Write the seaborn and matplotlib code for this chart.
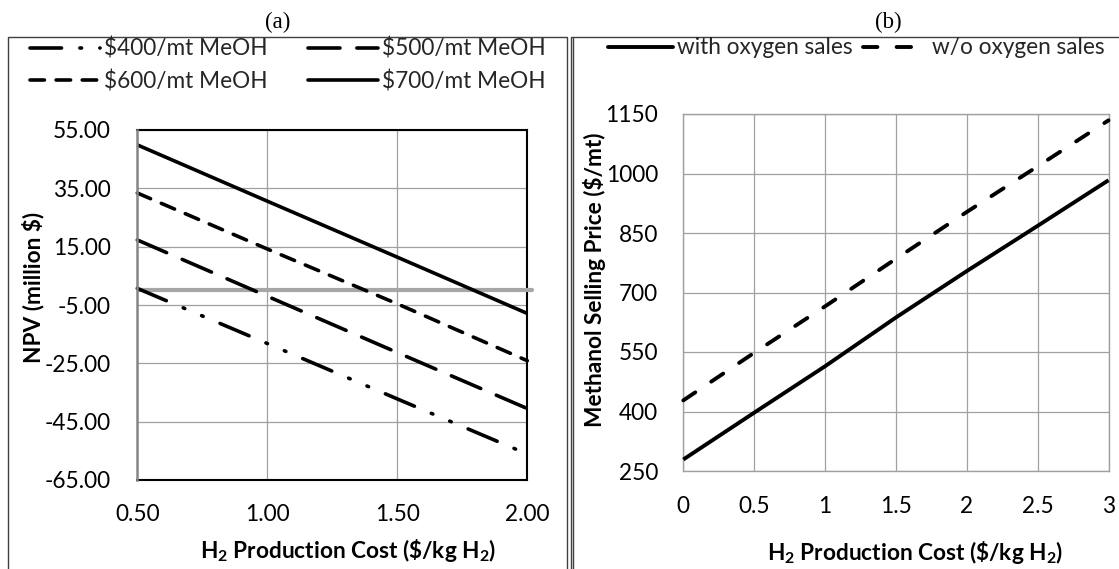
import matplotlib
matplotlib.use("Agg")
import matplotlib.pyplot as plt
from matplotlib.lines import Line2D
import numpy as np
import pandas as pd
import seaborn as sns

# ---- data -------------------------------------------------------------
h2_cost_a = [0.5, 1.0, 1.5, 2.0]
npv_400 = [0.7, -18.2, -37.2, -56.1]
npv_500 = [17.3, -2.0, -21.3, -40.5]
npv_600 = [33.4, 14.2, -4.6, -24.1]
npv_700 = [49.9, 30.6, 11.4, -7.9]
npv_labels = ["$400/mt MeOH", "$500/mt MeOH", "$600/mt MeOH", "$700/mt MeOH"]
npv_ticks = [-65, -45, -25, -5, 15, 35, 55]

h2_cost_b = [0, 0.5, 1, 1.5, 2, 2.5, 3]
price_with_o2 = [279, 397, 514, 637, 754, 868, 983]
price_without_o2 = [428, 548, 665, 785, 903, 1018, 1134]
price_labels = ["with oxygen sales", "w/o oxygen sales"]
price_ticks = [250, 400, 550, 700, 850, 1000, 1150]
cost_ticks_b = [0, 0.5, 1, 1.5, 2, 2.5, 3]

# ---- style ------------------------------------------------------------
sns.set_theme(style="white")
plt.rcParams["font.family"] = ["Lato", "DejaVu Sans"]
plt.rcParams["mathtext.fontset"] = "custom"
plt.rcParams["mathtext.rm"] = "Lato"
plt.rcParams["mathtext.bf"] = "Lato:bold"
plt.rcParams["lines.scale_dashes"] = False
FS = 16.3
FS_PX = FS * 100 / 72
GRID = "#a0a0a0"

W, H = 1119, 569
fig = plt.figure(figsize=(W / 100, H / 100), dpi=100)


def px_rect(x0, y0, x1, y1):
    return [x0 / W, 1 - y1 / H, (x1 - x0) / W, (y1 - y0) / H]


ax_a = fig.add_axes(px_rect(137.3, 130, 527.3, 480))
ax_b = fig.add_axes(px_rect(683.3, 114, 1108.5, 471))

# ---- panel (a): NPV ----------------------------------------------------
styles_a = [
    (0, (22.7, 13.2, 1.2, 13.2, 1.2, 13.2)),   # long dash dot dot
    (0, (23, 12.2)),                           # long dash
    (0, (10.4, 8.4)),                          # short dash
    "-",                                       # solid
]
df_a = pd.DataFrame({"cost": h2_cost_a, "v400": npv_400, "v500": npv_500,
                     "v600": npv_600, "v700": npv_700})
handles_a = []
for col, ls in zip(["v400", "v500", "v600", "v700"], styles_a):
    sns.lineplot(data=df_a, x="cost", y=col, ax=ax_a, color="black",
                 linewidth=2.6, linestyle=ls, dash_capstyle="round",
                 solid_capstyle="butt", clip_on=False, zorder=4)
    handles_a.append(Line2D([], [], color="black", linewidth=2.6, linestyle=ls,
                            dash_capstyle="round"))

# break-even reference line
ax_a.axhline(0, xmin=0.005, xmax=1.012, color="#a6a6a6", linewidth=3.0,
             clip_on=False, zorder=3)

ax_a.set_xlim(0.5, 2.0)
ax_a.set_ylim(-65, 55)
ax_a.set_xticks(h2_cost_a)
ax_a.set_xticklabels([f"{v:.2f}" for v in h2_cost_a])
ax_a.set_yticks(npv_ticks)
ax_a.set_yticklabels([f"{v:.2f}" for v in npv_ticks])
ax_a.grid(True, color=GRID, linewidth=0.9)
ax_a.tick_params(axis="both", length=0, labelsize=FS, colors="black")
ax_a.tick_params(axis="y", pad=19)
ax_a.tick_params(axis="x", pad=17)
for s in ["top", "right", "bottom"]:
    ax_a.spines[s].set_color("black")
    ax_a.spines[s].set_linewidth(1.5)
ax_a.spines["left"].set_color("#868686")
ax_a.spines["left"].set_linewidth(1.8)
ax_a.spines["left"].set_zorder(5)

ax_a.set_xlabel(r"$\mathbf{H_2}$ Production Cost (\$/kg $\mathbf{H_2}$)",
                fontsize=FS, fontweight="bold", color="black")
ax_a.set_ylabel("NPV (million $)", fontsize=FS, fontweight="bold", color="black")
ax_a.xaxis.label.set_va("center")
ax_a.yaxis.label.set_va("center")
ax_a.xaxis.set_label_coords(0.54, -0.2)
ax_a.yaxis.set_label_coords(-0.267, 0.549)

# legend fills column by column: reorder so rows read 400/500, 600/700
order = [0, 2, 1, 3]
fig.legend([handles_a[i] for i in order], [npv_labels[i] for i in order],
           loc="center left",
           bbox_to_anchor=(30 / W, 1 - 65 / H), bbox_transform=fig.transFigure,
           ncol=2, frameon=False, fontsize=FS, borderpad=0, borderaxespad=0,
           handlelength=70 / FS_PX, handletextpad=4 / FS_PX,
           columnspacing=40 / FS_PX, labelspacing=0.45)

# ---- panel (b): methanol selling price --------------------------------
df_b = pd.DataFrame({"cost": h2_cost_b, "with": price_with_o2,
                     "without": price_without_o2})
styles_b = ["-", (0, (10.4, 13.8))]
handles_b = []
for col, ls in zip(["with", "without"], styles_b):
    sns.lineplot(data=df_b, x="cost", y=col, ax=ax_b, color="black",
                 linewidth=2.8, linestyle=ls, dash_capstyle="round",
                 solid_capstyle="butt", clip_on=False, zorder=4)
    handles_b.append(Line2D([], [], color="black", linewidth=2.8, linestyle=ls,
                            dash_capstyle="round"))

ax_b.set_xlim(0, 3)
ax_b.set_ylim(250, 1150)
ax_b.set_xticks(cost_ticks_b)
ax_b.set_xticklabels([f"{v:g}" for v in cost_ticks_b])
ax_b.set_yticks(price_ticks)
ax_b.grid(True, color=GRID, linewidth=0.9)
ax_b.tick_params(axis="both", length=0, labelsize=FS, colors="black")
ax_b.tick_params(axis="y", pad=18)
ax_b.tick_params(axis="x", pad=18)
for s in ax_b.spines.values():
    s.set_color(GRID)
    s.set_linewidth(1.0)

ax_b.set_xlabel(r"$\mathbf{H_2}$ Production Cost (\$/kg $\mathbf{H_2}$)",
                fontsize=FS, fontweight="bold", color="black")
ax_b.set_ylabel("Methanol Selling Price ($/mt)", fontsize=FS,
                fontweight="bold", color="black")
ax_b.xaxis.label.set_va("center")
ax_b.yaxis.label.set_va("center")
ax_b.xaxis.set_label_coords(0.545, -0.227)
ax_b.yaxis.set_label_coords(-0.2077, 0.535)

fig.legend(handles_b, price_labels, loc="center left",
           bbox_to_anchor=(608 / W, 1 - 48 / H), bbox_transform=fig.transFigure,
           ncol=2, frameon=False, fontsize=FS, borderpad=0, borderaxespad=0,
           handlelength=65 / FS_PX, handletextpad=4 / FS_PX,
           columnspacing=10 / FS_PX)

# ---- panel titles and chart-area frames --------------------------------
fig.text(278 / W, 1 - 22 / H, "(a)", ha="center", va="center",
         family="Liberation Serif", fontsize=16.5, color="black")
fig.text(888 / W, 1 - 22 / H, "(b)", ha="center", va="center",
         family="Liberation Serif", fontsize=16.5, color="black")


def fig_line(xs, ys, lw=1.0, color="#404040"):
    fig.add_artist(Line2D([x / W for x in xs], [1 - y / H for y in ys],
                          transform=fig.transFigure, color=color, linewidth=lw))


fig_line([8.3, 8.3, 567.3, 567.3], [575, 36.5, 36.5, 575])
fig_line([570.7, 570.7, 1125], [575, 36.5, 36.5])
fig_line([572.7, 572.7], [575, 38])

fig.savefig("out.png", dpi=100)
